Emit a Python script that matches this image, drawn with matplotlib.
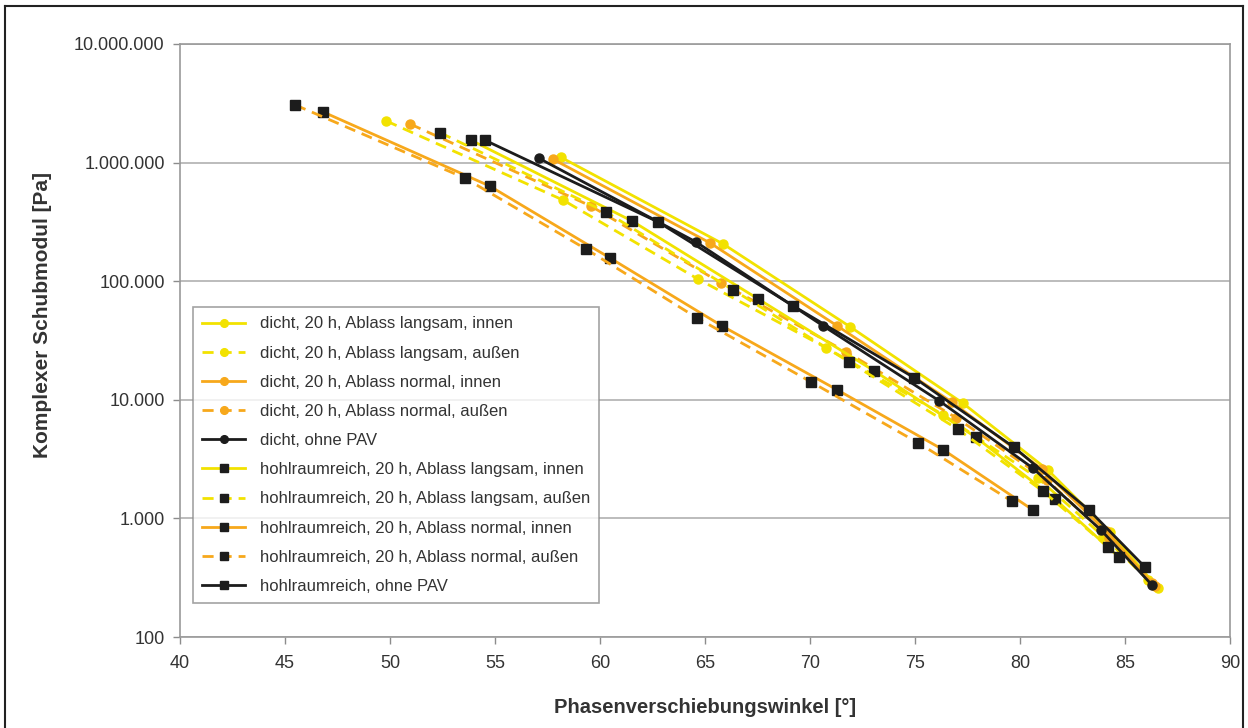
import numpy as np
import matplotlib
matplotlib.use('Agg')
import matplotlib.pyplot as plt
from matplotlib.lines import Line2D

plt.rcParams['font.family'] = ['Liberation Sans', 'DejaVu Sans']

# phase angle [deg] / complex shear modulus [Pa]
d_ls_in_x = [58.13, 65.86, 71.92, 77.26, 81.32, 84.27, 86.56]
d_ls_in_y = [1.11e6, 2.06e5, 4.11e4, 9.40e3, 2.56e3, 768, 259]
d_ls_out_x = [49.83, 58.23, 64.67, 70.77, 76.35, 80.84, 83.94, 86.09]
d_ls_out_y = [2.24e6, 4.84e5, 1.04e5, 2.74e4, 7.45e3, 2.19e3, 711, 303]
d_no_in_x = [57.75, 65.24, 71.30, 76.74, 81.03, 84.08, 86.42]
d_no_in_y = [1.07e6, 2.10e5, 4.19e4, 9.58e3, 2.61e3, 783, 269]
d_no_out_x = [50.97, 59.56, 65.76, 71.73, 76.97, 81.27, 84.23, 86.28]
d_no_out_y = [2.11e6, 4.30e5, 9.66e4, 2.53e4, 7.03e3, 2.11e3, 684, 285]
d_pav_x = [57.08, 64.57, 70.63, 76.16, 80.60, 83.85, 86.28]
d_pav_y = [1.09e6, 2.14e5, 4.19e4, 9.77e3, 2.66e3, 798, 274]

h_ls_in_x = [53.84, 61.52, 67.53, 73.06, 77.88, 81.65, 84.70]
h_ls_in_y = [1.55e6, 3.22e5, 7.08e4, 1.75e4, 4.85e3, 1.46e3, 473]
h_ls_out_x = [52.40, 60.28, 66.34, 71.87, 77.02, 81.08, 84.18]
h_ls_out_y = [1.78e6, 3.83e5, 8.43e4, 2.08e4, 5.67e3, 1.70e3, 574]
h_no_in_x = [46.82, 54.74, 60.47, 65.81, 71.30, 76.35, 80.60]
h_no_in_y = [2.67e6, 6.35e5, 1.57e5, 4.19e4, 1.21e4, 3.78e3, 1.18e3]
h_no_out_x = [45.49, 53.55, 59.32, 64.62, 70.06, 75.16, 79.60]
h_no_out_y = [3.06e6, 7.42e5, 1.87e5, 4.90e4, 1.41e4, 4.32e3, 1.40e3]
h_pav_x = [54.50, 62.76, 69.20, 74.97, 79.69, 83.27, 85.94]
h_pav_y = [1.55e6, 3.16e5, 6.18e4, 1.53e4, 4.00e3, 1.18e3, 389]

labels = ['dicht, 20 h, Ablass langsam, innen',
          'dicht, 20 h, Ablass langsam, außen',
          'dicht, 20 h, Ablass normal, innen',
          'dicht, 20 h, Ablass normal, außen',
          'dicht, ohne PAV',
          'hohlraumreich, 20 h, Ablass langsam, innen',
          'hohlraumreich, 20 h, Ablass langsam, außen',
          'hohlraumreich, 20 h, Ablass normal, innen',
          'hohlraumreich, 20 h, Ablass normal, außen',
          'hohlraumreich, ohne PAV']

yticks = [1e2, 1e3, 1e4, 1e5, 1e6, 1e7]
ytick_labels = ['100', '1.000', '10.000', '100.000', '1.000.000', '10.000.000']
xticks = [40, 45, 50, 55, 60, 65, 70, 75, 80, 85, 90]

yellow = '#F2E200'
orange = '#F7A81B'
black = '#1c1c1c'
dash = (0, (4, 2.5))

fig = plt.figure(figsize=(12.48, 7.28), dpi=100)
ax = fig.add_axes([0.1442, 0.125, 0.8415, 0.8146])

series = [
    (d_ls_in_x, d_ls_in_y, yellow, '-', 'o', yellow),
    (d_ls_out_x, d_ls_out_y, yellow, dash, 'o', yellow),
    (d_no_in_x, d_no_in_y, orange, '-', 'o', orange),
    (d_no_out_x, d_no_out_y, orange, dash, 'o', orange),
    (d_pav_x, d_pav_y, black, '-', 'o', black),
    (h_ls_in_x, h_ls_in_y, yellow, '-', 's', black),
    (h_ls_out_x, h_ls_out_y, yellow, dash, 's', black),
    (h_no_in_x, h_no_in_y, orange, '-', 's', black),
    (h_no_out_x, h_no_out_y, orange, dash, 's', black),
    (h_pav_x, h_pav_y, black, '-', 's', black),
]

for (x, y, c, ls, m, mc), lab in zip(series, labels):
    ms = 6.5 if m == 'o' else 7.5
    ax.plot(x, y, color=c, linestyle=ls, linewidth=2.0, marker=m,
            markersize=ms, markerfacecolor=mc, markeredgecolor=mc, label=lab)

ax.set_yscale('log')
ax.set_xlim(40, 90)
ax.set_ylim(100, 1e7)
ax.set_yticks(yticks)
ax.set_yticklabels(ytick_labels)
ax.yaxis.set_minor_locator(matplotlib.ticker.NullLocator())
ax.set_xticks(xticks)
ax.tick_params(axis='both', labelsize=13, colors='#8c8c8c', labelcolor='#333333',
               length=5, width=1, direction='out')
ax.tick_params(axis='x', pad=8)
ax.tick_params(axis='y', pad=6)
ax.grid(axis='y', color='#b0b0b0', linewidth=1.2)
ax.set_axisbelow(True)
for sp in ax.spines.values():
    sp.set_color('#9a9a9a')
    sp.set_linewidth(1.2)

ax.set_xlabel('Phasenverschiebungswinkel [°]', fontsize=14.5, fontweight='bold',
              color='#333333', labelpad=19)
ax.set_ylabel('Komplexer Schubmodul [Pa]', fontsize=15, fontweight='bold',
              color='#333333')
ax.yaxis.set_label_coords(-0.122, 0.543)

leg = ax.legend(loc='lower left', bbox_to_anchor=(0.0124, 0.0573), fontsize=12,
                frameon=True, fancybox=False, edgecolor='#8c8c8c',
                handlelength=2.6, labelspacing=0.85, borderpad=0.55,
                borderaxespad=0, handletextpad=0.85, markerscale=0.85)
leg.get_frame().set_linewidth(1.2)
for t in leg.get_texts():
    t.set_color('#333333')

# outer frame of the figure
fr = dict(color='#222222', linewidth=1.5, transform=fig.transFigure)
x0, x1, y1 = 5 / 1248, 1243 / 1248, 1 - 6 / 728
fig.add_artist(Line2D([x0, x1], [y1, y1], **fr))
fig.add_artist(Line2D([x0, x0], [0, y1], **fr))
fig.add_artist(Line2D([x1, x1], [0, y1], **fr))

fig.savefig('out.png', dpi=100)
